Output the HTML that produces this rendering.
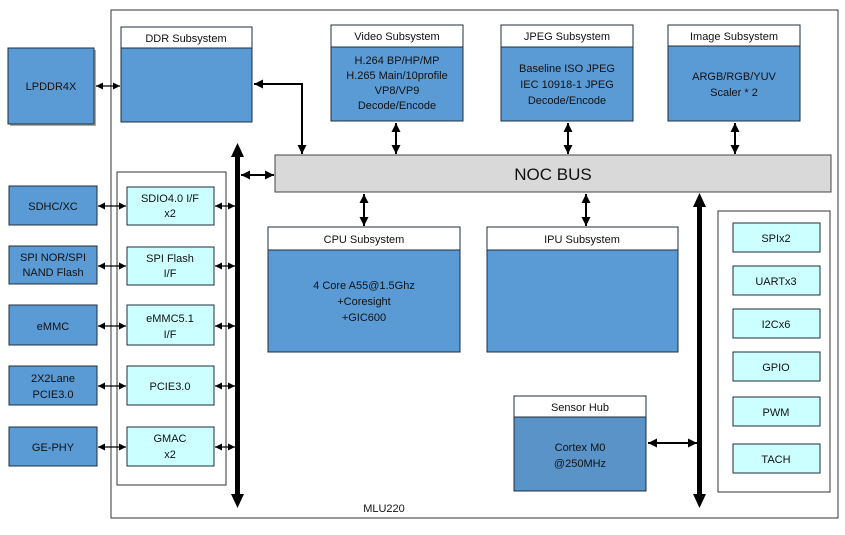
<!DOCTYPE html>
<html><head><meta charset="utf-8"><style>
body{margin:0;background:#fff}
text{font-family:"Liberation Sans",sans-serif;font-size:11px;fill:#111;text-anchor:middle}
.b{fill:#5b9bd5;stroke:#1f2d3d;stroke-width:1}
.h{fill:#fff;stroke:#1f2d3d;stroke-width:1}
.c{fill:#ccffff;stroke:#1f2d3d;stroke-width:1}
.l{stroke:#000;stroke-width:1.3;fill:none}
.m{stroke:#000;stroke-width:2;fill:none}
</style></head><body>
<svg width="845" height="530" viewBox="0 0 845 530" xmlns="http://www.w3.org/2000/svg">
<defs>
<marker id="s" viewBox="0 0 10 10" refX="10" refY="5" markerWidth="7" markerHeight="7" markerUnits="userSpaceOnUse" orient="auto-start-reverse"><path d="M0,0L10,5L0,10z" fill="#000"/></marker>
<marker id="md" viewBox="0 0 10 10" refX="10" refY="5" markerWidth="9" markerHeight="9" markerUnits="userSpaceOnUse" orient="auto-start-reverse"><path d="M0,0L10,5L0,10z" fill="#000"/></marker>
</defs>
<rect x="111" y="10" width="727" height="508" fill="#fff" stroke="#333" stroke-width="1"/>
<text x="384" y="512">MLU220</text>

<!-- LPDDR4X -->
<rect x="10" y="50" width="86" height="76" fill="#aaa"/>
<rect x="8" y="48" width="86" height="76" class="b"/>
<text x="51" y="90">LPDDR4X</text>
<line x1="96" y1="86" x2="120" y2="86" class="l" marker-start="url(#s)" marker-end="url(#s)"/>

<!-- DDR -->
<rect x="121" y="27" width="131" height="21" class="h"/><text x="186" y="42">DDR Subsystem</text>
<rect x="121" y="48" width="131" height="74" class="b"/>
<polyline points="254,84 302,84 302,154" class="m" marker-start="url(#md)" marker-end="url(#md)"/>

<!-- Video -->
<rect x="331" y="25" width="132" height="22" class="h"/><text x="397" y="40">Video Subsystem</text>
<rect x="331" y="47" width="132" height="74" class="b"/>
<text x="397" y="64">H.264 BP/HP/MP</text><text x="397" y="79">H.265 Main/10profile</text><text x="397" y="94">VP8/VP9</text><text x="397" y="109">Decode/Encode</text>
<line x1="396" y1="123" x2="396" y2="154" class="m" marker-start="url(#md)" marker-end="url(#md)"/>

<!-- JPEG -->
<rect x="501" y="25" width="132" height="22" class="h"/><text x="567" y="40">JPEG Subsystem</text>
<rect x="501" y="47" width="132" height="74" class="b"/>
<text x="567" y="72">Baseline ISO JPEG</text><text x="567" y="88">IEC 10918-1 JPEG</text><text x="567" y="104">Decode/Encode</text>
<line x1="568" y1="123" x2="568" y2="154" class="m" marker-start="url(#md)" marker-end="url(#md)"/>

<!-- Image -->
<rect x="668" y="25" width="132" height="21" class="h"/><text x="734" y="40">Image Subsystem</text>
<rect x="668" y="46" width="132" height="75" class="b"/>
<text x="734" y="80">ARGB/RGB/YUV</text><text x="734" y="96">Scaler * 2</text>
<line x1="735" y1="123" x2="735" y2="154" class="m" marker-start="url(#md)" marker-end="url(#md)"/>

<!-- NOC -->
<rect x="275" y="155" width="556" height="37" fill="#d9d9d9" stroke="#444"/>
<text x="553" y="180" style="font-size:17px">NOC BUS</text>

<!-- CPU / IPU -->
<line x1="364" y1="194" x2="364" y2="226" class="m" marker-start="url(#md)" marker-end="url(#md)"/>
<line x1="586" y1="194" x2="586" y2="226" class="m" marker-start="url(#md)" marker-end="url(#md)"/>
<rect x="268" y="227" width="192" height="23" class="h"/><text x="364" y="243">CPU Subsystem</text>
<rect x="268" y="250" width="192" height="102" class="b"/>
<text x="364" y="289">4 Core A55@1.5Ghz</text><text x="364" y="305">+Coresight</text><text x="364" y="321">+GIC600</text>
<rect x="487" y="227" width="191" height="23" class="h"/><text x="582" y="243">IPU Subsystem</text>
<rect x="487" y="250" width="191" height="102" class="b"/>

<!-- left bus -->
<line x1="237.5" y1="154" x2="237.5" y2="496" stroke="#000" stroke-width="5"/>
<polygon points="237.5,143 231,157 244,157" fill="#000"/>
<polygon points="237.5,508 231,494 244,494" fill="#000"/>
<line x1="241" y1="175" x2="274" y2="175" class="m" marker-start="url(#md)" marker-end="url(#md)"/>

<rect x="117" y="172" width="109" height="313" fill="none" stroke="#333"/>

<g>
<rect x="9" y="186" width="88" height="39" class="b"/><text x="53" y="210">SDHC/XC</text>
<rect x="127" y="187" width="87" height="38" class="c"/><text x="170" y="202">SDIO4.0 I/F</text><text x="170" y="217">x2</text>
<line x1="98" y1="206" x2="126" y2="206" class="l" marker-start="url(#s)" marker-end="url(#s)"/>
<line x1="215" y1="206" x2="235" y2="206" class="l" marker-start="url(#s)" marker-end="url(#s)"/>

<rect x="9" y="246" width="88" height="38" class="b"/><text x="53" y="261">SPI NOR/SPI</text><text x="53" y="276">NAND Flash</text>
<rect x="127" y="247" width="87" height="38" class="c"/><text x="170" y="262">SPI Flash</text><text x="170" y="277">I/F</text>
<line x1="98" y1="266" x2="126" y2="266" class="l" marker-start="url(#s)" marker-end="url(#s)"/>
<line x1="215" y1="266" x2="235" y2="266" class="l" marker-start="url(#s)" marker-end="url(#s)"/>

<rect x="9" y="305" width="88" height="40" class="b"/><text x="53" y="330">eMMC</text>
<rect x="127" y="305" width="87" height="40" class="c"/><text x="170" y="322">eMMC5.1</text><text x="170" y="338">I/F</text>
<line x1="98" y1="326" x2="126" y2="326" class="l" marker-start="url(#s)" marker-end="url(#s)"/>
<line x1="215" y1="326" x2="235" y2="326" class="l" marker-start="url(#s)" marker-end="url(#s)"/>

<rect x="9" y="366" width="88" height="39" class="b"/><text x="53" y="382">2X2Lane</text><text x="53" y="398">PCIE3.0</text>
<rect x="127" y="366" width="87" height="39" class="c"/><text x="170" y="390">PCIE3.0</text>
<line x1="98" y1="386" x2="126" y2="386" class="l" marker-start="url(#s)" marker-end="url(#s)"/>
<line x1="215" y1="386" x2="235" y2="386" class="l" marker-start="url(#s)" marker-end="url(#s)"/>

<rect x="9" y="427" width="88" height="39" class="b"/><text x="53" y="451">GE-PHY</text>
<rect x="127" y="427" width="87" height="39" class="c"/><text x="170" y="442">GMAC</text><text x="170" y="458">x2</text>
<line x1="98" y1="447" x2="126" y2="447" class="l" marker-start="url(#s)" marker-end="url(#s)"/>
<line x1="215" y1="447" x2="235" y2="447" class="l" marker-start="url(#s)" marker-end="url(#s)"/>
</g>

<!-- right bus -->
<line x1="699.5" y1="204" x2="699.5" y2="496" stroke="#000" stroke-width="5"/>
<polygon points="699.5,193 693,207 706,207" fill="#000"/>
<polygon points="699.5,508 693,494 706,494" fill="#000"/>

<rect x="718" y="211" width="112" height="281" fill="none" stroke="#333"/>
<rect x="733" y="223" width="87" height="29" class="c"/><text x="776" y="242">SPIx2</text>
<rect x="733" y="266" width="87" height="29" class="c"/><text x="776" y="285">UARTx3</text>
<rect x="733" y="309" width="87" height="29" class="c"/><text x="776" y="328">I2Cx6</text>
<rect x="733" y="352" width="87" height="29" class="c"/><text x="776" y="371">GPIO</text>
<rect x="733" y="397" width="87" height="29" class="c"/><text x="776" y="416">PWM</text>
<rect x="733" y="444" width="87" height="29" class="c"/><text x="776" y="463">TACH</text>

<!-- Sensor hub -->
<rect x="514" y="396" width="132" height="21" class="h"/><text x="580" y="411">Sensor Hub</text>
<rect x="514" y="417" width="132" height="74" class="b" style="fill:#5a93c8"/>
<text x="580" y="451">Cortex M0</text><text x="580" y="467">@250MHz</text>
<line x1="648" y1="443" x2="697" y2="443" class="m" marker-start="url(#md)" marker-end="url(#md)"/>
</svg>
</body></html>
